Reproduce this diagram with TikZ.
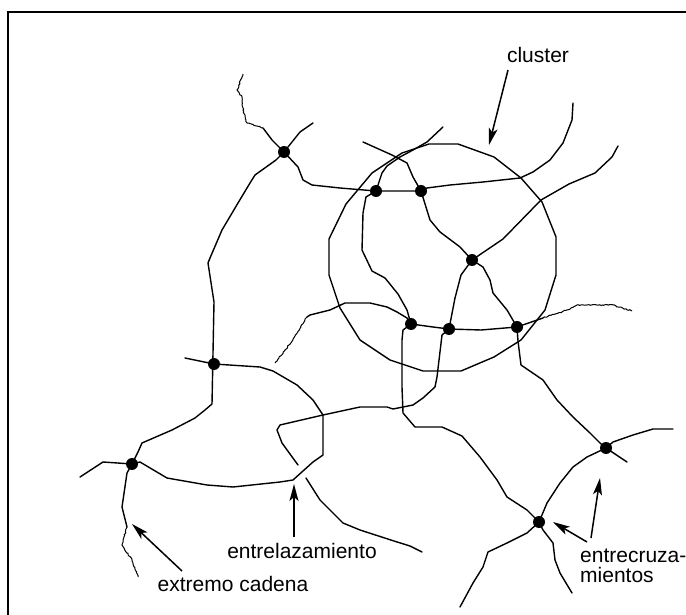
\documentclass[tikz,border=0pt]{standalone}
\usepackage{fontspec}
\setmainfont{Liberation Sans}
\usetikzlibrary{arrows.meta,decorations.pathmorphing}
\tikzset{
  chain/.style={line width=1.4pt, line join=round, line cap=round},
  tail/.style={line width=1pt, decorate, decoration={random steps, segment length=1.5pt, amplitude=0.6pt}},
  xlink/.style={circle, fill=black, inner sep=0pt, minimum size=12pt},
  lbl/.style={font=\fontsize{21}{20}\selectfont, inner sep=0pt},
  pointer/.style={line width=1.5pt, -{Stealth[length=17pt,width=9pt,inset=4pt]}},
  frame/.style={line width=2pt}
}
\begin{document}
\begin{tikzpicture}[x=1pt,y=-1pt]
\useasboundingbox (0,0) rectangle (686,615);
% frame
\coordinate (f1) at (8,615); \coordinate (f2) at (8,12.3); \coordinate (f3) at (686,12.3);
\draw[frame] (f1) -- (f2) -- (f3);

% crosslink positions
\coordinate (A) at (284,152);
\coordinate (B) at (376,191);
\coordinate (C) at (421,191);
\coordinate (D) at (472,260);
\coordinate (E) at (411,324);
\coordinate (F) at (449,329);
\coordinate (G) at (517,327);
\coordinate (H) at (214,364);
\coordinate (I) at (132,464);
\coordinate (J) at (606,448);
\coordinate (K) at (539,522);

% cluster (polygonal circle)
\draw[chain] (458,144) -- (494,157) -- (521,178) -- (542,202) -- (556,237) -- (556,275) -- (545,310) -- (521,340) -- (494,357) -- (461,371) -- (423,371) -- (390,360) -- (360,340) -- (340,308) -- (329,275) -- (329,239) -- (346,204) -- (372,173) -- (402,153) -- (429,144) -- cycle;

% chain a: top-left tail, A, B, C, top right
\draw[tail] (243,74) -- (237,90) -- (242,97) -- (243,110) -- (247,123) -- (263,128);
\draw[chain] (263,128) -- (272,140) -- (A) -- (298,167) -- (303,180) -- (312,185) -- (340,188) -- (B) -- (C) -- (427,188) -- (450,185) -- (483,182) -- (520,178) -- (533,172) -- (550,160) -- (563,143) -- (572,120) -- (573,103);

% chain b: A, H, I, lower-left tail
\draw[chain] (313,123) -- (300,132) -- (A) -- (276,160) -- (255,175) -- (250,183) -- (238,203) -- (222,230) -- (210,258) -- (208,263) -- (214,302) -- (213,353) -- (212,404) -- (205,410) -- (195,418) -- (172,430) -- (142,443) -- (138,452) -- (I) -- (127,473) -- (122,507) -- (127,527);
\draw[tail] (127,527) -- (122,545) -- (132,560) -- (138,577);

% chain c: H, loop, I, left
\draw[chain] (185,358) -- (H) -- (260,367) -- (273,371) -- (297,385) -- (313,400) -- (323,415) -- (323,455) -- (313,462) -- (293,480) -- (280,482) -- (233,487) -- (207,485) -- (167,478) -- (140,462) -- (I) -- (103,462) -- (80,477);

% chain d: entanglement loop, F, D, right
\draw[chain] (298,465) -- (282,443) -- (277,430) -- (280,425) -- (323,415) -- (360,407) -- (387,407) -- (393,409) -- (413,405) -- (423,398) -- (435,387) -- (437,377) -- (442,335) -- (F) -- (455,298) -- (461,275) -- (D) -- (503,239) -- (541,200) -- (569,184) -- (595,173) -- (612,157) -- (618,146);

% chain e: top, C, D, G, J
\draw[chain] (363,142) -- (392,155) -- (407,163) -- (413,177) -- (C) -- (430,220) -- (440,232) -- (460,247) -- (D) -- (483,267) -- (490,280) -- (493,293) -- (507,310) -- (G) -- (518,341) -- (521,365) -- (543,380) -- (557,400) -- (573,417) -- (590,433) -- (600,443) -- (J) -- (627,462);

% chain f: top, B, E, K, bottom
\draw[chain] (443,127) -- (427,142) -- (413,150) -- (400,157) -- (387,166) -- (382,173) -- (B) -- (366,197) -- (363,213) -- (362,250) -- (372,271) -- (385,278) -- (398,294) -- (407,310) -- (E) -- (403,330) -- (402,340) -- (402,387) -- (403,413) -- (415,427) -- (442,427) -- (462,436) -- (480,457) -- (497,480) -- (507,497) -- (527,510) -- (K) -- (543,530) -- (553,543) -- (555,560) -- (560,573) -- (572,593);

% chain g: lower middle
\draw[chain] (306,478) -- (320,500) -- (343,523) -- (360,530) -- (394,541) -- (410,546) -- (422,552);

% chain h: left tail, E, F, G, right tail
\draw[tail] (275,363) -- (289,345) -- (307,317);
\draw[chain] (307,317) -- (310,315) -- (330,310) -- (345,303) -- (370,303) -- (387,307) -- (397,312) -- (407,318) -- (E) -- (433,327) -- (F) -- (481,330) -- (G) -- (543,318);
\draw[tail] (543,318) -- (567,310) -- (577,305) -- (613,305) -- (632,311);

% chain i: lower right, K, J, right
\draw[chain] (460,607) -- (473,583) -- (483,567) -- (488,552) -- (507,543) -- (527,533) -- (K) -- (547,503) -- (560,483) -- (573,467) -- (587,457) -- (J) -- (613,442) -- (633,435) -- (653,429) -- (673,429);

% crosslink dots
\foreach \p in {A,B,C,D,E,F,G,H,I,J,K} \node[xlink] (n\p) at (\p) {};

% labels
\node[lbl, anchor=base] (lcluster) at (538,63) {cluster};
\node[lbl, anchor=base] (lentre) at (302,558) {entrelazamiento};
\node[lbl, anchor=base] (lext) at (233,591) {extremo cadena};
\node[lbl, anchor=base west] (lcruz) at (580,562) {entrecruza-};
\node[lbl, anchor=base west] (lcruz2) at (580,582) {mientos};

% pointer arrows
\coordinate (c0) at (508,70); \coordinate (c1) at (489,145);
\draw[pointer] (c0) -- (c1);
\coordinate (e0) at (294,537); \coordinate (e1) at (294,484);
\draw[pointer] (e0) -- (e1);
\coordinate (x0) at (182,571); \coordinate (x1) at (132,524);
\draw[pointer] (x0) -- (x1);
\coordinate (k0) at (587,542); \coordinate (k1) at (553,522);
\draw[pointer] (k0) -- (k1);
\coordinate (j0) at (591,538); \coordinate (j1) at (600,478);
\draw[pointer] (j0) -- (j1);
\end{tikzpicture}
\end{document}
